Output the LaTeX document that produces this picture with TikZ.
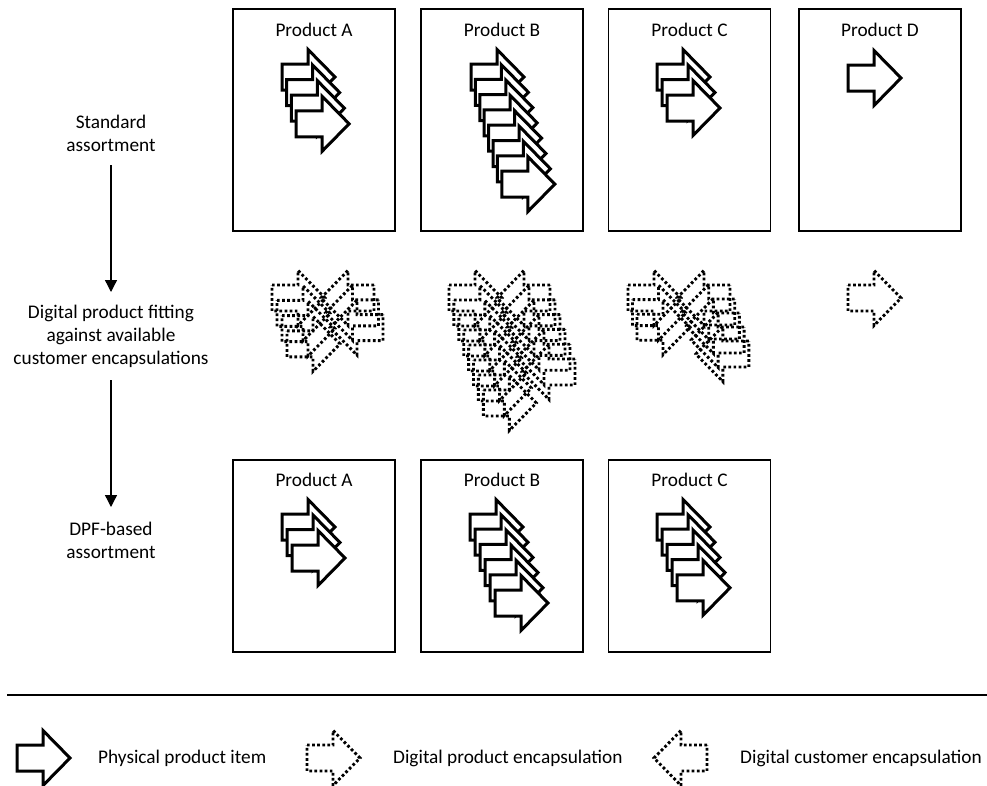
\documentclass[tikz,border=0pt]{standalone}
\usepackage{fontspec}
\setmainfont{Carlito}
\usetikzlibrary{arrows.meta}
\newcommand\physarrow[2]{\draw[phys] (#1,#2) -- ++(26,0) -- ++(0,-14.5) -- ++(27,27.5) -- ++(-27,27.5) -- ++(0,-14.5) -- ++(-26,0) -- cycle;}
\newcommand\prodarrow[2]{\draw[dig] (#1,#2) -- ++(26,0) -- ++(0,-14.5) -- ++(27,27.5) -- ++(-27,27.5) -- ++(0,-14.5) -- ++(-26,0) -- cycle;}
\newcommand\custarrow[2]{\draw[dig] (#1,#2) -- ++(-26,0) -- ++(0,-14.5) -- ++(-27,27.5) -- ++(27,27.5) -- ++(0,-14.5) -- ++(26,0) -- cycle;}
\newcommand\physstack[5]{\foreach \i in {1,...,#3}{\pgfmathsetmacro\ax{#1+(\i-1)*#4}\pgfmathsetmacro\ay{#2+(\i-1)*#5}\physarrow{\ax}{\ay}}}
\newcommand\prodstack[5]{\foreach \i in {1,...,#3}{\pgfmathsetmacro\ax{#1+(\i-1)*#4}\pgfmathsetmacro\ay{#2+(\i-1)*#5}\prodarrow{\ax}{\ay}}}
\newcommand\custstack[5]{\foreach \i in {1,...,#3}{\pgfmathsetmacro\ax{#1+(\i-1)*#4}\pgfmathsetmacro\ay{#2+(\i-1)*#5}\custarrow{\ax}{\ay}}}
\begin{document}
\begin{tikzpicture}[x={(1pt,0)},y={(0,-1pt)},
  txt/.style={font=\fontsize{19.3}{23}\selectfont, inner sep=0pt, align=center},
  pbox/.style={draw, line width=1.5pt, minimum width=162pt, inner sep=0pt},
  topbox/.style={pbox, minimum height=222pt},
  botbox/.style={pbox, minimum height=192pt},
  phys/.style={draw=black, fill=white, line width=3pt, line join=miter},
  dig/.style={draw=black, line width=2.9pt, dash pattern=on 2.7pt off 2.4pt, line join=miter},
  flow/.style={line width=1.3pt, -{Triangle[width=12pt,length=12pt]}}]
\useasboundingbox (0,0) rectangle (987,785);
% top row boxes
\node[topbox] (tA) at (314,120) {};
\node[topbox] (tB) at (502,120) {};
\node[topbox] (tC) at (689.5,120) {};
\node[topbox] (tD) at (880,120) {};
\node[txt] (tAt) at (314,30) {Product A};
\node[txt] (tBt) at (502,30) {Product B};
\node[txt] (tCt) at (689.5,30) {Product C};
\node[txt] (tDt) at (880,30) {Product D};
% bottom row boxes
\node[botbox] (bA) at (314,556) {};
\node[botbox] (bB) at (502,556) {};
\node[botbox] (bC) at (689.5,556) {};
\node[txt] (bAt) at (314,480) {Product A};
\node[txt] (bBt) at (502,480) {Product B};
\node[txt] (bCt) at (689.5,480) {Product C};
% physical items top
\physstack{282}{64}{4}{4.7}{15.6}
\physstack{471}{64}{8}{4.4}{15.3}
\physstack{657}{64}{3}{5}{15.5}
\physstack{848}{65}{1}{0}{0}
% physical items bottom
\physstack{282}{514}{3}{5}{15.5}
\physstack{470}{514}{6}{5}{15.2}
\physstack{657}{514}{5}{5}{15.2}
% digital encapsulations middle
\prodstack{272}{285}{4}{5}{15.3}
\custstack{374}{285}{3}{4.5}{14.8}
\prodstack{449}{285}{8}{4.9}{15}
\custstack{550}{285}{6}{5}{14.8}
\prodstack{628}{285}{3}{4.5}{14.6}
\custstack{730}{285}{5}{4.7}{14}
\prodstack{848}{285}{1}{0}{0}
% left labels and flow
\node[txt] (std) at (111,133.5) {Standard\\assortment};
\node[txt] (fit) at (111,336.5) {Digital product fitting\\against available\\customer encapsulations};
\node[txt] (dpf) at (111,540) {DPF-based\\assortment};
\coordinate (s1) at (111,165);
\coordinate (e1) at (111,292);
\coordinate (s2) at (111,380);
\coordinate (e2) at (111,507);
\draw[flow] (s1) -- (e1);
\draw[flow] (s2) -- (e2);
% separator
\coordinate (rl) at (7,695);
\coordinate (rr) at (987,695);
\draw[line width=1.3pt] (rl) -- (rr);
% legend
\physarrow{17}{745}
\node[txt, anchor=west] (lg1) at (98,758) {Physical product item};
\prodarrow{307}{745}
\node[txt, anchor=west] (lg2) at (393,758) {Digital product encapsulation};
\custarrow{707}{745}
\node[txt, anchor=west] (lg3) at (740,758) {Digital customer encapsulation};
\end{tikzpicture}
\end{document}
